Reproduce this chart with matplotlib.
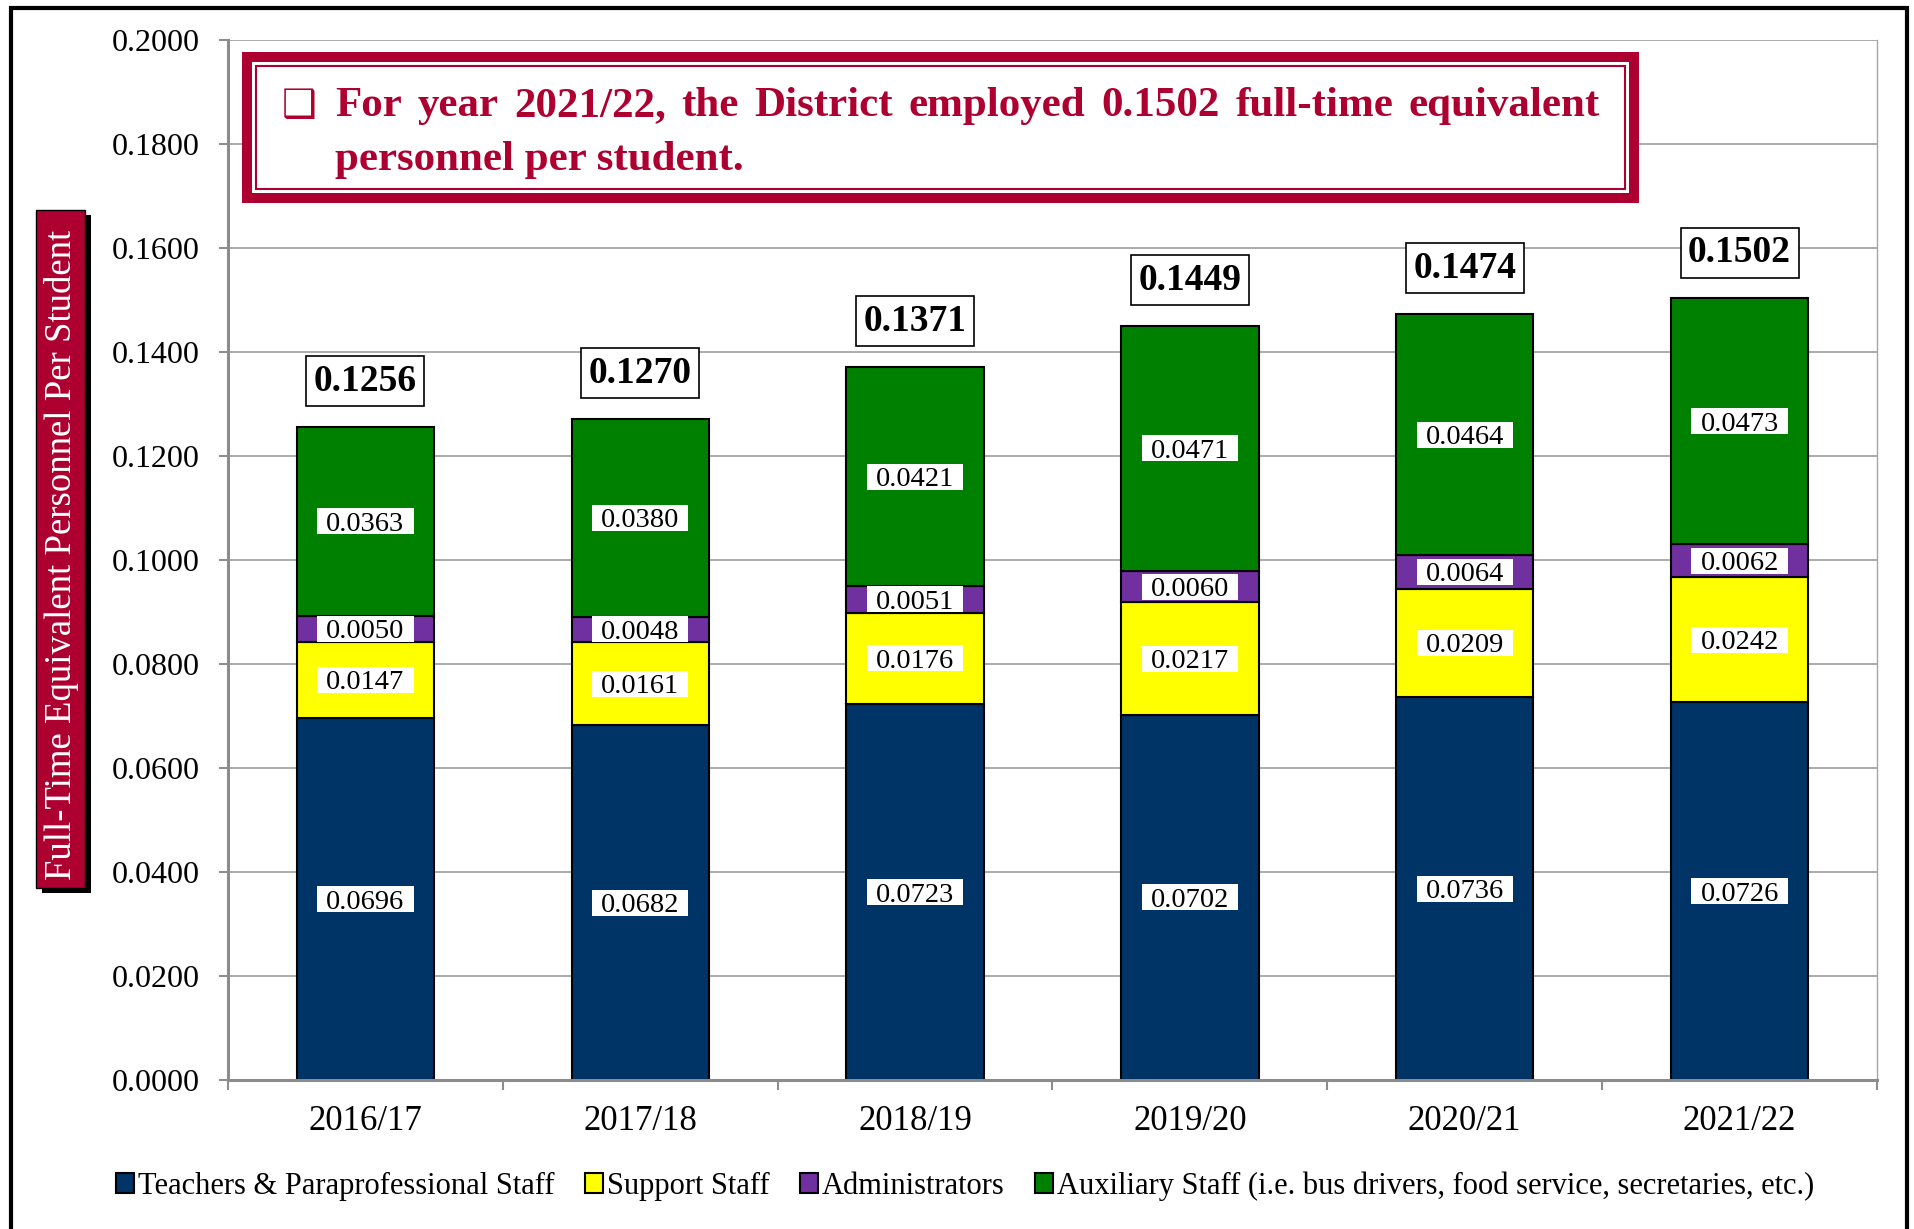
import matplotlib
matplotlib.use('Agg')
import matplotlib.pyplot as plt
from matplotlib.patches import Rectangle
import numpy as np

years = ['2016/17', '2017/18', '2018/19', '2019/20', '2020/21', '2021/22']
teachers = [0.0696, 0.0682, 0.0723, 0.0702, 0.0736, 0.0726]
support = [0.0147, 0.0161, 0.0176, 0.0217, 0.0209, 0.0242]
admins = [0.0050, 0.0048, 0.0051, 0.0060, 0.0064, 0.0062]
auxiliary = [0.0363, 0.0380, 0.0421, 0.0471, 0.0464, 0.0473]
totals = [0.1256, 0.1270, 0.1371, 0.1449, 0.1474, 0.1502]
series_names = ['Teachers & Paraprofessional Staff', 'Support Staff', 'Administrators',
                'Auxiliary Staff (i.e. bus drivers, food service, secretaries, etc.)']
colors = ['#003366', '#FFFF00', '#7030A0', '#008000']
yticks = [0.0, 0.02, 0.04, 0.06, 0.08, 0.10, 0.12, 0.14, 0.16, 0.18, 0.20]
ylabel = 'Full-Time Equivalent Personnel Per Student'
note_line1 = 'For year 2021/22, the District employed 0.1502 full-time equivalent'
note_line2 = 'personnel per student.'

RED = '#AE0030'
SERIF = 'Liberation Serif'
plt.rcParams['font.family'] = [SERIF, 'DejaVu Serif']

W, H = 1915, 1229
fig = plt.figure(figsize=(W / 100, H / 100), dpi=100)


def fx(px):
    return px / W


def fy(py):
    return 1 - py / H


ax = fig.add_axes([fx(228), fy(1080), fx(1877) - fx(228), fy(40) - fy(1080)])

x = np.arange(len(years))
series = [teachers, support, admins, auxiliary]
bottom = np.zeros(len(years))
for vals, col, name in zip(series, colors, series_names):
    vals = np.array(vals)
    ax.bar(x, vals, width=0.5, bottom=bottom, color=col, edgecolor='black',
           linewidth=1.5, label=name, zorder=2)
    mids = bottom + vals / 2
    for xi, m, v in zip(x, mids, vals):
        ax.add_patch(Rectangle((xi - 0.175, m - 0.0025), 0.35, 0.005,
                               facecolor='white', edgecolor='none', zorder=3))
        ax.text(xi, m, f'{v:.4f}', ha='center', va='center_baseline',
                fontsize=20.5, color='black', zorder=4)
    bottom = bottom + vals

for xi, top, t in zip(x, bottom, totals):
    ax.annotate(f'{t:.4f}', xy=(xi, top), xytext=(0, 33), textcoords='offset points',
                ha='center', va='center', fontsize=27, fontweight='bold',
                bbox=dict(boxstyle='square,pad=0.2', facecolor='white',
                          edgecolor='black', linewidth=1.2), zorder=5)

ax.set_xlim(-0.5, len(years) - 0.5)
ax.set_ylim(0, 0.2)
ax.set_yticks(yticks)
ax.set_yticklabels([f'{v:.4f}' for v in yticks], fontsize=23)
ax.set_xticks(np.arange(-0.5, len(years), 1.0))
ax.set_xticklabels([])
ax.set_xticks(x, minor=True)
ax.set_xticklabels(years, minor=True, fontsize=25)
ax.tick_params(axis='x', which='major', direction='out', length=7, width=1.5, color='#8C8C8C')
ax.tick_params(axis='x', which='minor', length=0, pad=18)
ax.tick_params(axis='y', direction='out', length=6.5, width=1.5, color='#8C8C8C', pad=14)
ax.grid(axis='y', color='#A6A6A6', linewidth=1.3, zorder=0)
ax.set_axisbelow(True)
for s in ['left', 'bottom']:
    ax.spines[s].set_color('#8C8C8C')
    ax.spines[s].set_linewidth(2.2)
ax.spines['right'].set_color('#A6A6A6')
ax.spines['right'].set_linewidth(1.0)
ax.spines['top'].set_visible(False)

# legend
handles, labels = ax.get_legend_handles_labels()
fig.legend(handles, labels, loc='center', bbox_to_anchor=(fx(965), fy(1186)), ncol=4,
           frameon=False, fontsize=22, handlelength=0.6, handleheight=0.6,
           handletextpad=0.12, columnspacing=1.0)

# outer frame
fig.add_artist(Rectangle((fx(11), fy(1240)), fx(1907) - fx(11), fy(8) - fy(1240),
                         transform=fig.transFigure, fill=False, edgecolor='black',
                         linewidth=3, zorder=10))

# y label box with shadow
bx0, bx1, by0, by1 = 36, 85, 210, 888
fig.add_artist(Rectangle((fx(bx0 + 6), fy(by1 + 5)), fx(bx1) - fx(bx0), fy(by0) - fy(by1),
                         transform=fig.transFigure, facecolor='black', edgecolor='none'))
fig.add_artist(Rectangle((fx(bx0), fy(by1)), fx(bx1) - fx(bx0), fy(by0) - fy(by1),
                         transform=fig.transFigure, facecolor=RED, edgecolor='black',
                         linewidth=1))
fig.text(fx((bx0 + bx1) / 2 + 1), fy((by0 + by1) / 2 + 6), ylabel, rotation=90, ha='center',
         va='center', color='white', fontsize=26.5)

# annotation box (double border)
ox0, ox1, oy0, oy1 = 242, 1639, 52, 203
fig.add_artist(Rectangle((fx(ox0 + 5), fy(oy1 - 5)), fx(ox1 - 5) - fx(ox0 + 5),
                         fy(oy0 + 5) - fy(oy1 - 5), transform=fig.transFigure,
                         facecolor='white', edgecolor=RED, linewidth=7.2))
fig.add_artist(Rectangle((fx(ox0 + 14), fy(oy1 - 14)), fx(ox1 - 14) - fx(ox0 + 14),
                         fy(oy0 + 14) - fy(oy1 - 14), transform=fig.transFigure,
                         fill=False, edgecolor=RED, linewidth=1.5))

fig.text(fx(282), fy(117), '\u2751', family='DejaVu Sans', fontsize=28, color=RED,
         ha='left', va='baseline')

renderer = fig.canvas.get_renderer()
words = note_line1.split()
tx0, tx1 = 335, 1600
texts = []
widths = []
for w in words:
    t = fig.text(0, fy(116), w, fontsize=31, fontweight='bold', color=RED,
                 ha='left', va='baseline')
    texts.append(t)
    widths.append(t.get_window_extent(renderer).width)
gap = (tx1 - tx0 - sum(widths)) / (len(words) - 1)
cur = tx0
for t, wd in zip(texts, widths):
    t.set_x(fx(cur))
    cur += wd + gap
fig.text(fx(tx0), fy(170), note_line2, fontsize=31, fontweight='bold', color=RED,
         ha='left', va='baseline')

fig.savefig('out.png', dpi=100)
